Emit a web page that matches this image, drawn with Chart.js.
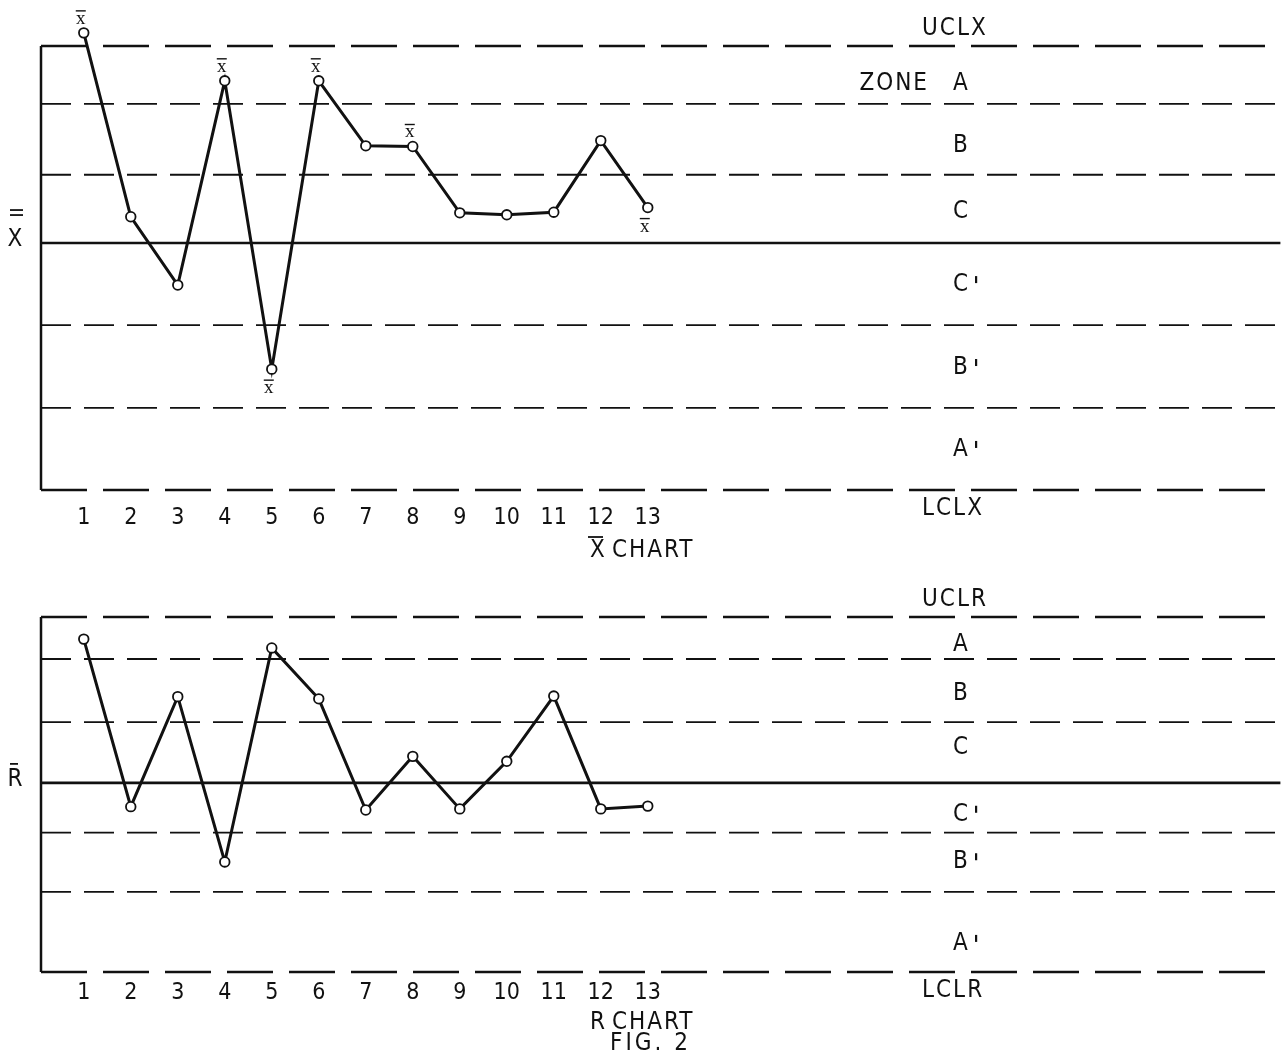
<!DOCTYPE html>
<html>
<head>
<meta charset="utf-8">
<script src="https://cdn.jsdelivr.net/npm/chart.js@4.4.0/dist/chart.umd.min.js"></script>
<style>
  html, body { margin: 0; padding: 0; background: #fff; width: 1287px; height: 1059px; overflow: hidden; }
  canvas { position: absolute; left: 0; }
  #xchart { top: 0; }
  #rchart { top: 570px; }
</style>
</head>
<body>
<canvas id="xchart" width="1287" height="570"></canvas>
<canvas id="rchart" width="1287" height="489"></canvas>
<script>
// ---------------- DATA ----------------
const SAMPLES = [1, 2, 3, 4, 5, 6, 7, 8, 9, 10, 11, 12, 13];

// X-bar chart (values in chart units, centre line = 0)
const XBAR_VALUES = [3.20, 0.40, -0.64, 2.47, -1.92, 2.47, 1.48, 1.47, 0.46, 0.43, 0.47, 1.56, 0.54];
// UCLX, A/B, B/C, centre (X double-bar), C'/B', B'/A', LCLX
const XBAR_LINES = [3.00, 2.12, 1.04, 0, -1.25, -2.51, -3.76];
const XBAR_ZONES = ['A', 'B', 'C', "C'", "B'", "A'"];
const XBAR_MARKED = [1, 4, 6, 8, 5, 13];
const XBAR_MARK_BELOW = [false, false, false, false, true, true];

// R chart (values in chart units, centre line = 0)
const R_VALUES = [2.60, -0.43, 1.56, -1.43, 2.44, 1.52, -0.49, 0.48, -0.47, 0.39, 1.57, -0.47, -0.42];
// UCLR, A/B, B/C, centre (R bar), C'/B', B'/A', LCLR
const R_LINES = [3.00, 2.24, 1.10, 0, -0.90, -1.97, -3.42];
const R_ZONES = ['A', 'B', 'C', "C'", "B'", "A'"];

// ---------------- STYLE ----------------
const FONT = "'DejaVu Sans Condensed', 'Liberation Sans Narrow', 'DejaVu Sans', sans-serif";
const INK = '#111';
const X_MIN = 0.09, X_MAX = 26.46;

function lineDatasets(lines) {
  return lines.map((v, i) => {
    const isLimit = (i === 0 || i === lines.length - 1);
    const isCentre = (v === 0);
    return {
      data: [{ x: X_MIN, y: v }, { x: X_MAX, y: v }],
      borderColor: INK,
      borderWidth: isCentre ? 2.6 : (isLimit ? 2.4 : 1.8),
      borderDash: isCentre ? [] : (isLimit ? [46, 16] : [30, 13]),
      pointRadius: 0,
      clip: false,
      order: 5
    };
  });
}

function makeChart(canvasId, values, lines, opts) {
  const canvas = document.getElementById(canvasId);
  const H = canvas.height;
  const yMin = lines[lines.length - 1];
  const yMax = opts.yMax;
  // pixels per unit from the limit-line positions
  const k = (opts.lclPx - opts.uclPx) / (lines[0] - yMin);
  const topPad = opts.uclPx - (yMax - lines[0]) * k;

  const annotate = {
    id: 'annotate_' + canvasId,
    afterDatasetsDraw(chart) {
      const ctx = chart.ctx;
      const ys = chart.scales.y;
      const xs = chart.scales.x;
      ctx.save();
      ctx.fillStyle = INK;
      ctx.strokeStyle = INK;
      ctx.textBaseline = 'middle';
      ctx.font = '24px ' + FONT;
      // limit labels
      ctx.letterSpacing = '2px';
      ctx.textAlign = 'left';
      ctx.fillText(opts.ucl, 922, ys.getPixelForValue(lines[0]) - 17);
      ctx.fillText(opts.lcl, 922, ys.getPixelForValue(lines[lines.length - 1]) + 19);
      // zone labels
      opts.zones.forEach((z, i) => {
        const mid = (ys.getPixelForValue(lines[i]) + ys.getPixelForValue(lines[i + 1])) / 2 + opts.zoneShift[i];
        ctx.textAlign = 'left';
        ctx.fillText(z.charAt(0), 953, mid);
        if (z.length > 1) {
          ctx.fillRect(975, mid - 9, 2.2, 7);
        }
        if (i === 0 && opts.zoneWord) {
          ctx.textAlign = 'right';
          ctx.fillText(opts.zoneWord, 929, mid);
        }
      });
      // y axis symbol
      ctx.letterSpacing = '0px';
      ctx.textAlign = 'center';
      const cy = ys.getPixelForValue(0);
      ctx.fillText(opts.ySymbol, 15, cy - 3);
      ctx.lineWidth = 1.8;
      for (let b = 0; b < opts.yBars; b++) {
        const by = opts.yBars === 2 ? cy - 33 + b * 5 : cy - 19;
        ctx.beginPath();
        ctx.moveTo(10, by);
        ctx.lineTo(opts.yBars === 2 ? 23 : 18, by);
        ctx.stroke();
      }
      // chart caption
      ctx.letterSpacing = '2px';
      ctx.textAlign = 'left';
      ctx.fillText(opts.captionSym, 590, opts.captionY);
      ctx.fillText('CHART', 612, opts.captionY);
      if (opts.captionBar) {
        ctx.lineWidth = 1.8;
        ctx.beginPath();
        ctx.moveTo(588, opts.captionY - 14);
        ctx.lineTo(603, opts.captionY - 14);
        ctx.stroke();
      }
      if (opts.fig) {
        ctx.letterSpacing = '3px';
        ctx.fillText(opts.fig, 610, opts.captionY + 21);
      }
      // x-bar marks next to points
      if (opts.marks) {
        ctx.letterSpacing = '0px';
        ctx.font = "19px 'Liberation Serif', 'DejaVu Serif', serif";
        ctx.textAlign = 'center';
        ctx.lineWidth = 1.4;
        opts.marks.forEach((s, k2) => {
          const px = xs.getPixelForValue(s) - 3;
          const py = ys.getPixelForValue(values[s - 1]);
          const below = opts.markBelow[k2];
          const ty = below ? py + 19 : py - 14;
          ctx.fillText('x', px, ty);
          ctx.beginPath();
          ctx.moveTo(px - 5, ty - 8);
          ctx.lineTo(px + 5, ty - 8);
          ctx.stroke();
        });
      }
      ctx.restore();
    }
  };

  return new Chart(canvas, {
    type: 'line',
    data: {
      datasets: [
        {
          data: SAMPLES.map((s, i) => ({ x: s, y: values[i] })),
          borderColor: INK,
          borderWidth: 3,
          pointRadius: 4.8,
          pointBackgroundColor: '#fff',
          pointBorderColor: INK,
          pointBorderWidth: 1.8,
          tension: 0,
          clip: false,
          order: 0
        },
        // vertical axis from UCL to LCL
        {
          data: [{ x: X_MIN, y: lines[0] }, { x: X_MIN, y: yMin }],
          borderColor: INK,
          borderWidth: 2.5,
          pointRadius: 0,
          clip: false,
          order: 4
        },
        ...lineDatasets(lines)
      ]
    },
    options: {
      responsive: false,
      devicePixelRatio: 1,
      animation: false,
      events: [],
      layout: { padding: { top: topPad, left: 0, right: 0, bottom: 0 } },
      plugins: { legend: { display: false }, tooltip: { enabled: false }, title: { display: false } },
      scales: {
        x: {
          type: 'linear',
          min: X_MIN,
          max: X_MAX,
          afterBuildTicks: s => { s.ticks = SAMPLES.map(v => ({ value: v })); },
          afterFit: s => { s.height = H - opts.lclPx; },
          grid: { display: false, drawTicks: false },
          border: { display: false },
          ticks: {
            autoSkip: false,
            maxRotation: 0,
            padding: opts.tickPad,
            color: INK,
            font: { family: FONT, size: 23 },
            callback: v => String(v)
          }
        },
        y: {
          type: 'linear',
          min: yMin,
          max: yMax,
          afterFit: s => { s.width = 41; },
          grid: { display: false, drawTicks: false },
          border: { display: false },
          ticks: { display: false }
        }
      }
    },
    plugins: [annotate]
  });
}

makeChart('xchart', XBAR_VALUES, XBAR_LINES, {
  uclPx: 46, lclPx: 490, yMax: 3.6, tickPad: 14,
  ucl: 'UCLX', lcl: 'LCLX', zones: XBAR_ZONES, zoneWord: 'ZONE',
  zoneShift: [9, 6.5, 3, 1, 1.5, 1],
  ySymbol: 'X', yBars: 2,
  captionSym: 'X', captionBar: true, captionY: 551,
  marks: XBAR_MARKED, markBelow: XBAR_MARK_BELOW
});

makeChart('rchart', R_VALUES, R_LINES, {
  uclPx: 47, lclPx: 402, yMax: 3.0, tickPad: 7,
  ucl: 'UCLR', lcl: 'LCLR', zones: R_ZONES, zoneWord: null,
  zoneShift: [7, 3.5, -4.5, 7, 0, 12],
  ySymbol: 'R', yBars: 1,
  captionSym: 'R', captionBar: false, captionY: 453, fig: 'FIG. 2',
  marks: null
});
</script>
</body>
</html>
